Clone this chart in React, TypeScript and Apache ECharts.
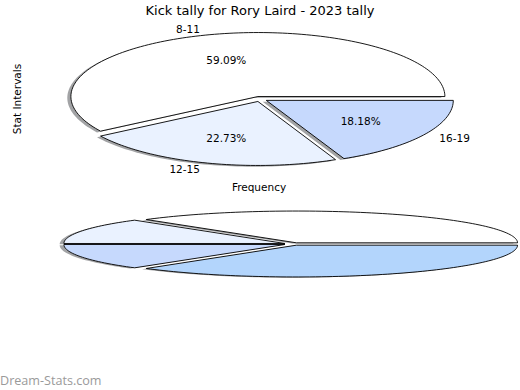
import React, { useEffect, useRef } from 'react';
import * as echarts from 'echarts';

// ---- data ----
const titleText = 'Kick tally for Rory Laird - 2023 tally';
const categories = ['8-11', '12-15', '16-19'];
const counts = [13, 5, 4];
const sliceColors = ['#ffffff', '#eaf2ff', '#c6d9fd'];

const lowerValues = [36.9, 13.1, 13.1, 36.9];
const lowerColors = ['#ffffff', '#eaf2ff', '#c6d9fd', '#b3d5fc'];

const yAxisTitle = 'Stat Intervals';
const xAxisTitle = 'Frequency';
const watermark = 'Dream-Stats.com';

type Geom = {
  cx: number; cy: number; rx: number; ry: number;
  explode: number; sx: number; sy: number; labels: boolean;
};

const FONT = 'DejaVu Sans';

function makeRender(values: number[], colors: string[], names: string[] | null, g: Geom) {
  const total = values.reduce((a, b) => a + b, 0);
  return (params: any, api: any) => {
    const i = params.dataIndex;
    const v = api.value(0);
    let cum = 0;
    for (let k = 0; k < i; k++) cum += values[k];
    const a0 = (cum / total) * Math.PI * 2;
    const a1 = ((cum + v) / total) * Math.PI * 2;
    const mid = (a0 + a1) / 2;
    const cx = g.cx + g.explode * g.rx * Math.cos(mid);
    const cy = g.cy - g.explode * g.ry * Math.sin(mid);
    const pts: number[][] = [[cx, cy]];
    const n = Math.max(10, Math.ceil((a1 - a0) / (Math.PI / 120)));
    for (let j = 0; j <= n; j++) {
      const a = a0 + ((a1 - a0) * j) / n;
      pts.push([cx + g.rx * Math.cos(a), cy - g.ry * Math.sin(a)]);
    }
    const shadowPts = pts.map((p) => [p[0] + g.sx, p[1] + g.sy]);
    const children: any[] = [
      {
        type: 'polygon',
        shape: { points: shadowPts },
        style: { fill: 'rgba(70,72,76,0.5)', stroke: 'none' },
      },
      {
        type: 'polygon',
        shape: { points: pts },
        style: { fill: colors[i], stroke: '#000', lineWidth: 0.9, lineJoin: 'miter' },
      },
    ];
    if (g.labels && names) {
      const lx = cx + 1.1 * g.rx * Math.cos(mid);
      const ly = cy - 1.1 * g.ry * Math.sin(mid);
      const px = cx + 0.6 * g.rx * Math.cos(mid);
      const py = cy - 0.6 * g.ry * Math.sin(mid);
      children.push({
        type: 'text',
        x: lx,
        y: ly,
        style: {
          text: names[i],
          align: Math.cos(mid) < 0 ? 'right' : 'left',
          verticalAlign: 'middle',
          fontSize: 10.5,
          fontFamily: FONT,
          fill: '#000',
        },
      });
      children.push({
        type: 'text',
        x: px,
        y: py,
        style: {
          text: ((v / total) * 100).toFixed(2) + '%',
          align: 'center',
          verticalAlign: 'middle',
          fontSize: 10.5,
          fontFamily: FONT,
          fill: '#000',
        },
      });
    }
    return { type: 'group', children };
  };
}

export default function App() {
  const ref = useRef<HTMLDivElement>(null);
  useEffect(() => {
    document.body.style.margin = '0';
    const chart = echarts.init(ref.current!, null, { renderer: 'svg' });
    const upper: Geom = { cx: 260, cy: 99, rx: 187, ry: 64, explode: 0.04, sx: -3.6, sy: 1.3, labels: true };
    const lower: Geom = { cx: 293, cy: 244, rx: 221, ry: 31.8, explode: 0.04, sx: -4.2, sy: 0.7, labels: false };
    chart.setOption({
      animation: false,
      backgroundColor: '#ffffff',
      series: [
        {
          type: 'custom',
          coordinateSystem: 'none',
          silent: true,
          data: lowerValues.map((v) => [v]),
          renderItem: makeRender(lowerValues, lowerColors, null, lower),
        },
        {
          type: 'custom',
          coordinateSystem: 'none',
          silent: true,
          data: counts.map((v) => [v]),
          renderItem: makeRender(counts, sliceColors, categories, upper),
        },
      ],
      graphic: [
        {
          type: 'text',
          x: 260,
          y: 10,
          style: { text: titleText, align: 'center', verticalAlign: 'middle', fontSize: 13, fontFamily: FONT, fill: '#000' },
        },
        {
          type: 'text',
          x: 17,
          y: 99,
          rotation: Math.PI / 2,
          style: { text: yAxisTitle, align: 'center', verticalAlign: 'middle', fontSize: 10.5, fontFamily: FONT, fill: '#000' },
        },
        {
          type: 'text',
          x: 259,
          y: 187,
          style: { text: xAxisTitle, align: 'center', verticalAlign: 'middle', fontSize: 10.5, fontFamily: FONT, fill: '#000' },
        },
        {
          type: 'text',
          x: 0,
          y: 380,
          style: { text: watermark, align: 'left', verticalAlign: 'middle', fontSize: 12.6, fontFamily: 'Open Sans', fill: '#9a9a9a' },
        },
      ],
    });
    return () => chart.dispose();
  }, []);
  return <div ref={ref} style={{ position: 'absolute', left: 0, top: 0, width: 520, height: 390 }} />;
}
